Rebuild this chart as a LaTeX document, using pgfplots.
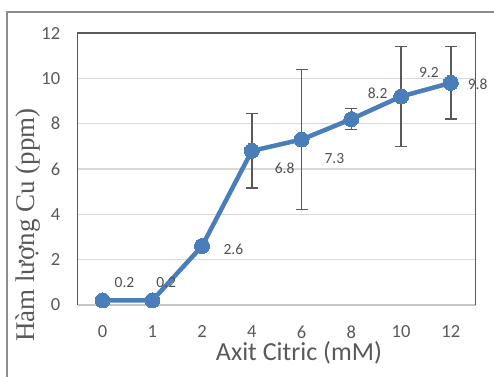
\documentclass[border=0pt]{standalone}
\usepackage{pgfplots}
\pgfplotsset{compat=1.18}
\usepackage{fontspec}
\setmainfont{Carlito}
\newfontfamily\timesf{Liberation Serif}
\definecolor{serblue}{HTML}{4A7EBB}
\definecolor{txtgray}{HTML}{595959}
\definecolor{gridgray}{HTML}{D9D9D9}
\definecolor{errgray}{HTML}{595959}
\definecolor{framegray}{HTML}{8C8C8C}
\pgfplotstableread{
x y e
0 0.2 0
1 0.2 0
2 2.6 0.2
3 6.8 1.64
4 7.3 3.08
5 8.2 0.47
6 9.2 2.2
7 9.8 1.6
}\datatable
\begin{document}
\begin{tikzpicture}
\path[use as bounding box] (-77.7pt,-71pt) rectangle (416.3pt,305pt);
\draw[framegray, line width=1.5pt] (-70.7pt,-90pt) -- (-70.7pt,293pt) -- (440pt,293pt);
\begin{axis}[
  at={(0,0)}, anchor=south west,
  scale only axis, width=398pt, height=272pt,
  xmin=-0.5, xmax=7.5, ymin=0, ymax=12,
  ytick={0,2,...,12},
  xtick={0,...,7},
  xticklabels={0,1,2,4,6,8,10,12},
  ymajorgrids,
  grid style={gridgray, line width=1.2pt},
  axis line style={draw=none},
  tick style={draw=none},
  clip=false,
  /pgf/number format/assume math mode=true,
  tick label style={font=\fontsize{18.5}{20}\selectfont, text=txtgray},
  yticklabel style={xshift=-14pt},
  xticklabel style={yshift=-17pt},
]
\draw[gridgray!80!gray, line width=1.3pt] (rel axis cs:0,0) -- (rel axis cs:1,0);
\draw[txtgray, line width=1.4pt] (rel axis cs:0,0) -- (rel axis cs:0,1) -- (rel axis cs:1,1) -- (rel axis cs:1,0);
\addplot[serblue, line width=4.5pt, mark=*, mark size=7.5pt,
  mark options={solid, fill=serblue, draw=serblue, line width=0pt},
  error bars/.cd, y dir=both, y explicit,
  error bar style={errgray, line width=1.4pt},
  error mark options={rotate=90, mark size=6pt, errgray, line width=1.4pt}]
  table[x=x, y=y, y error=e] {\datatable};
\begin{scope}[every node/.style={font=\fontsize{15.5}{17}\selectfont, text=txtgray!90!black}]
\node at (axis cs:0.44,0.97) {0.2};
\node at (axis cs:1.28,0.97) {0.2};
\node at (axis cs:2.63,2.46) {2.6};
\node at (axis cs:3.66,6.04) {6.8};
\node at (axis cs:4.66,6.47) {7.3};
\node at (axis cs:5.53,9.34) {8.2};
\node at (axis cs:6.56,10.26) {9.2};
\node at (axis cs:7.54,9.74) {9.8};
\end{scope}
\end{axis}
\node[anchor=base, text=txtgray, font=\fontsize{26}{28}\selectfont] at (221.3pt,-55pt) {Axit Citric (mM)};
\node[rotate=90, text=txtgray, font=\timesf\fontsize{27}{29}\selectfont] at (-49.7pt,80pt) {Hàm lượng Cu (ppm)};
\end{tikzpicture}
\end{document}
